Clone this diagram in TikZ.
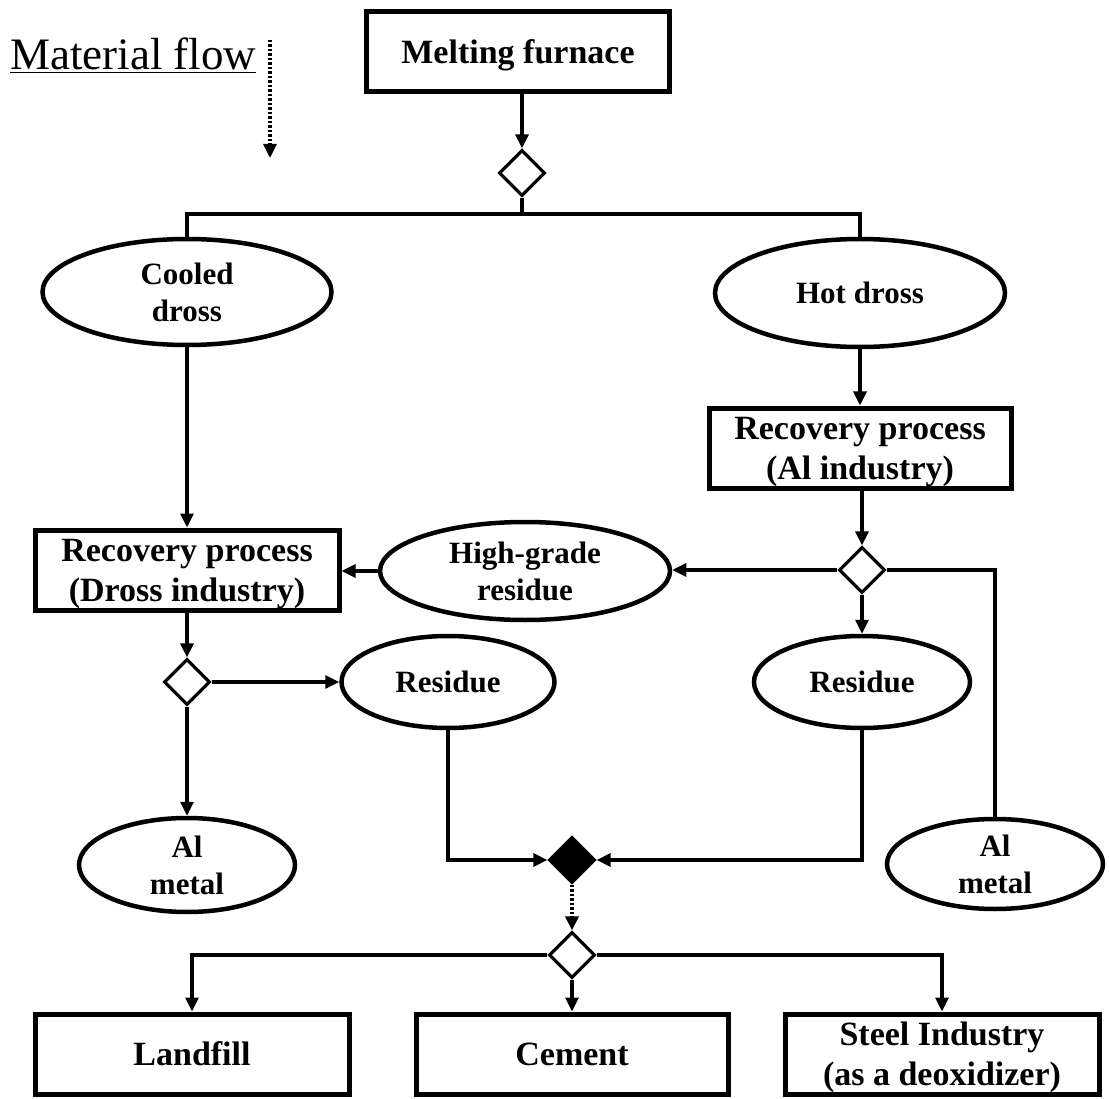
\documentclass[tikz,border=0pt]{standalone}
\usepackage{fontspec}
\setmainfont{Liberation Serif}
\usetikzlibrary{shapes.geometric,arrows.meta}
\begin{document}
\begin{tikzpicture}[x=1pt,y=-1pt,
  box/.style={draw,line width=5pt,rectangle,inner sep=0pt,align=center,text depth=-5pt,
    font=\fontsize{34}{40}\selectfont\bfseries},
  ell/.style={draw,line width=4.5pt,ellipse,inner sep=0pt,align=center,
    font=\fontsize{31}{37}\selectfont\bfseries},
  dia/.style={draw,line width=3.2pt,diamond,minimum width=46pt,minimum height=46pt,inner sep=0pt,fill=white},
  fdia/.style={dia,fill=black},
  con/.style={line width=3.2pt},
  arr/.style={con,-{Triangle[width=13pt,length=14pt]}},
  dotarr/.style={line width=3.2pt,dash pattern=on 2.5pt off 2pt,-{Triangle[width=13pt,length=14pt]}}]
\useasboundingbox (0,0) rectangle (1109,1099);

% legend
\node[anchor=base west,inner sep=0pt,font=\fontsize{45}{54}\selectfont] (mf) at (10,70) {\underline{Material flow}};
\coordinate (mfa) at (270,40);
\coordinate (mfb) at (270,158);
\draw[dotarr] (mfa) -- (mfb);

% nodes
\node[box,minimum width=303pt,minimum height=80pt] (furn) at (518,52) {Melting furnace};
\node[dia] (d1) at (522,173) {};
\coordinate (j) at (522,214);
\node[ell,minimum width=289pt,minimum height=106pt] (cool) at (187,292) {Cooled\\dross};
\node[ell,minimum width=290pt,minimum height=108pt] (hot) at (860,293) {Hot dross};
\node[box,minimum width=302pt,minimum height=80pt] (alind) at (860,448) {Recovery process\\(Al industry)};
\node[box,minimum width=304pt,minimum height=80pt] (dross) at (187,570) {Recovery process\\(Dross industry)};
\node[dia] (d2) at (862,570) {};
\node[ell,minimum width=290pt,minimum height=98pt] (hg) at (525,571) {High-grade\\residue};
\node[dia] (d3) at (187,682) {};
\node[ell,minimum width=213pt,minimum height=92pt] (resL) at (448,682) {Residue};
\node[ell,minimum width=216pt,minimum height=92pt] (resR) at (862,682) {Residue};
\node[ell,minimum width=216pt,minimum height=94pt] (almL) at (187,865) {Al\\metal};
\node[ell,minimum width=216pt,minimum height=90pt] (almR) at (995,864) {Al\\metal};
\node[fdia] (d4) at (572,860) {};
\node[dia] (d5) at (572,955) {};
\node[box,minimum width=314pt,minimum height=80pt] (land) at (192,1054) {Landfill};
\node[box,minimum width=312pt,minimum height=80pt] (cem) at (572,1054) {Cement};
\node[box,minimum width=314pt,minimum height=80pt] (steel) at (942,1054) {Steel Industry\\(as a deoxidizer)};

% connectors
\draw[arr] (furn.south -| d1.north) -- (d1.north);
\draw[con] (d1.south) -- (j);
\draw[con] (cool.north) -- (cool.north |- j) -- (hot.north |- j) -- (hot.north);
\draw[arr] (cool.south) -- (dross.north);
\draw[arr] (hot.south) -- (alind.north);
\draw[arr] (alind.south -| d2.north) -- (d2.north);
\draw[arr] (d2.west) -- (d2.west -| hg.east);
\draw[arr] (hg.west) -- (hg.west -| dross.east);
\draw[arr] (d2.south) -- (resR.north);
\draw[con] (d2.east) -- (d2.east -| almR.north) -- (almR.north);
\draw[arr] (dross.south) -- (d3.north);
\draw[arr] (d3.east) -- (resL.west);
\draw[arr] (d3.south) -- (almL.north);
\draw[arr] (resL.south) |- (d4.west);
\draw[arr] (resR.south) |- (d4.east);
\draw[dotarr] (d4.south) -- (d5.north);
\draw[arr] (d5.west) -| (land.north);
\draw[arr] (d5.east) -| (steel.north);
\draw[arr] (d5.south) -- (cem.north);
\end{tikzpicture}
\end{document}
